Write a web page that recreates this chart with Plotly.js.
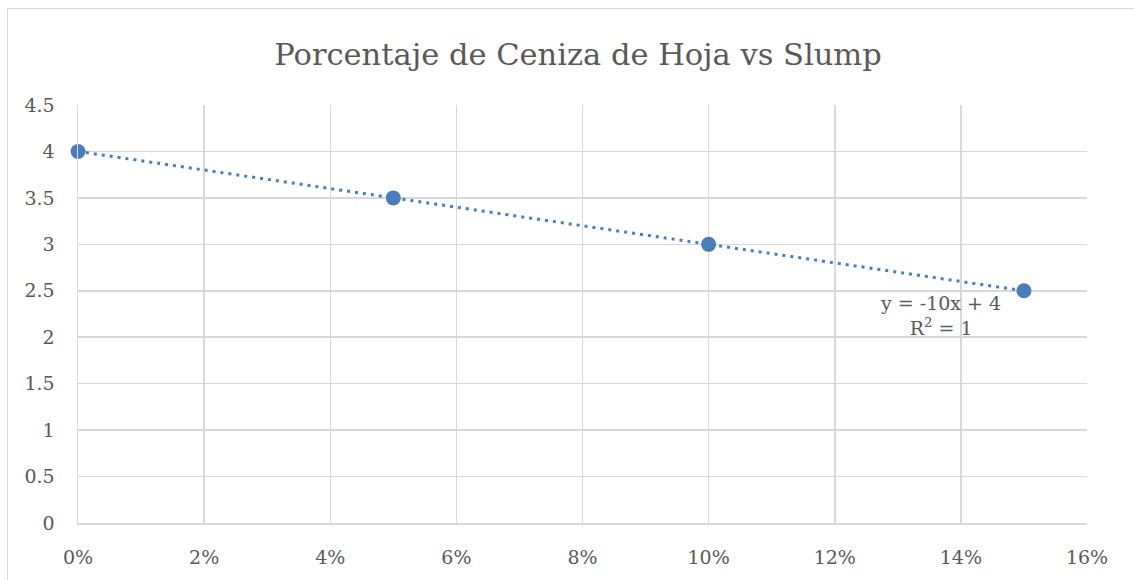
<!DOCTYPE html>
<html>
<head>
<meta charset="utf-8">
<script src="https://cdn.plot.ly/plotly-3.0.1.min.js"></script>
<style>
html,body{margin:0;padding:0;overflow:hidden;background:#fff;width:1134px;height:580px;}
#chart{position:absolute;left:7px;top:8px;width:1140px;height:590px;border:1px solid #d9d9d9;}
</style>
</head>
<body>
<div id="chart"></div>
<script>
const percentages = [0, 0.05, 0.10, 0.15];
const slump = [4, 3.5, 3, 2.5];
const chartTitle = "Porcentaje de Ceniza de Hoja vs Slump";

// least-squares trendline from the data
const n = percentages.length;
const mx = percentages.reduce((a,b)=>a+b,0)/n;
const my = slump.reduce((a,b)=>a+b,0)/n;
let sxy=0, sxx=0, syy=0;
for(let i=0;i<n;i++){sxy+=(percentages[i]-mx)*(slump[i]-my);sxx+=(percentages[i]-mx)**2;syy+=(slump[i]-my)**2;}
const slope = sxy/sxx;
const intercept = my - slope*mx;
const r2 = (sxy*sxy)/(sxx*syy);
const trendX = [Math.min(...percentages), Math.max(...percentages)];
const trendY = trendX.map(x=>slope*x+intercept);
const fmt = v => Number(v.toFixed(4)).toString();
const eqText = "y = " + fmt(slope) + "x + " + fmt(intercept) + "<br>R<sup>2</sup> = " + fmt(r2);

const color = "#4A7EBB";
const font = "DejaVu Serif, Liberation Serif, serif";

const data = [
  {x: trendX, y: trendY, mode: "lines", line: {color: color, width: 3, dash: "3px,5px"}, hoverinfo: "skip", showlegend: false, cliponaxis: false},
  {x: percentages, y: slump, mode: "markers", marker: {color: color, size: 15}, showlegend: false, cliponaxis: false}
];

const layout = {
  width: 1140, height: 590,
  margin: {l: 70, r: 61, t: 96, b: 76},
  paper_bgcolor: "#fff", plot_bgcolor: "#fff",
  font: {family: font, color: "#595959", size: 19},
  title: {text: chartTitle, font: {family: font, size: 30.5, color: "#595959"}, x: 0.5, xanchor: "center", y: 1 - 45/590, yanchor: "middle"},
  xaxis: {range: [0, 0.16], dtick: 0.02, tick0: 0, tickformat: ".0%", showgrid: true, gridcolor: "#d9d9d9", gridwidth: 1.5,
          zeroline: false, showline: true, linecolor: "#d9d9d9", linewidth: 1.5, ticks: "", ticklabelstandoff: 17, fixedrange: true},
  yaxis: {range: [0, 4.5], dtick: 0.5, tick0: 0, showgrid: true, gridcolor: "#d9d9d9", gridwidth: 1.5,
          zeroline: false, showline: true, linecolor: "#d9d9d9", linewidth: 1.5, ticks: "", ticklabelstandoff: 18, fixedrange: true},
  annotations: [{x: 0.1367, y: 2.23, xref: "x", yref: "y", text: eqText, showarrow: false, align: "center",
                 font: {family: font, size: 19, color: "#595959"}}]
};

Plotly.newPlot("chart", data, layout, {displayModeBar: false, staticPlot: true});
</script>
</body>
</html>
